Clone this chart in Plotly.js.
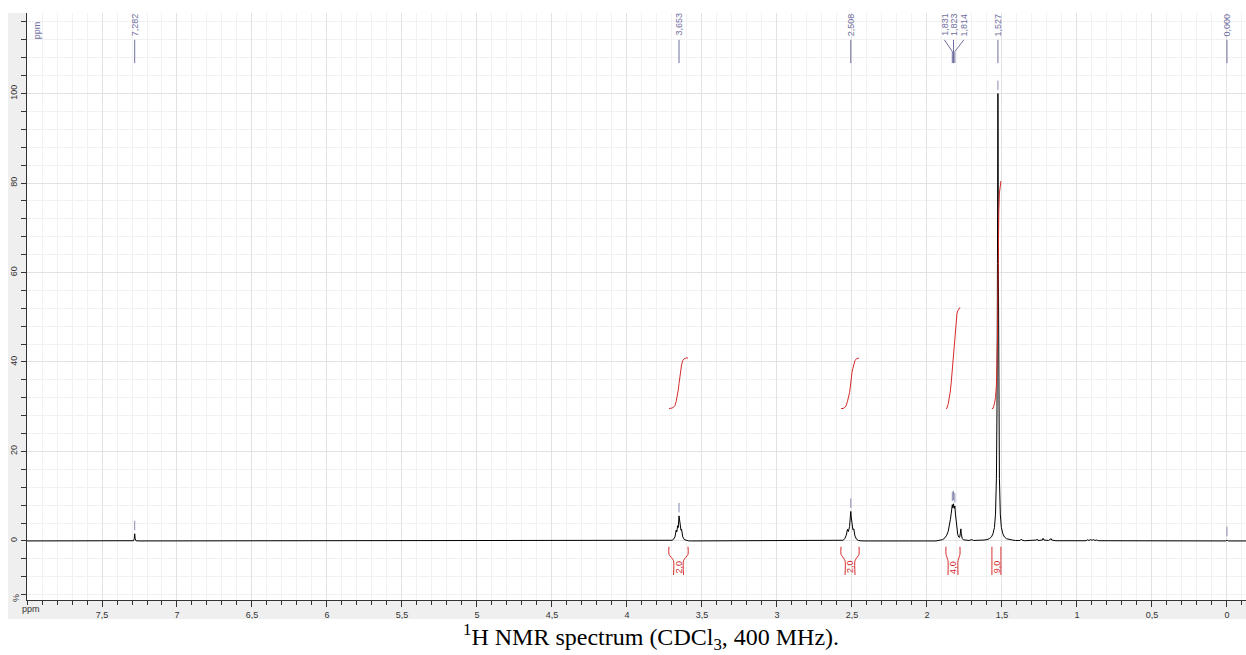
<!DOCTYPE html>
<html>
<head>
<meta charset="utf-8">
<script src="https://cdn.plot.ly/plotly-3.0.1.min.js"></script>
<style>
  html, body { margin: 0; padding: 0; background: #ffffff; }
  #nmr { width: 1246px; height: 655px; }
</style>
</head>
<body>
<div id="nmr"></div>
<script>
// 1H NMR spectrum (CDCl3, 400 MHz): chemical shift (ppm) vs. relative intensity (%)
const spectrumPpm = [
  8.000, 7.300, 7.290, 7.285, 7.282, 7.279, 7.274, 7.260,
  3.740, 3.715, 3.700, 3.690, 3.680, 3.672, 3.668, 3.662, 3.658, 3.653, 3.649, 3.645, 3.640, 3.636, 3.628, 3.618, 3.605, 3.590, 3.570,
  2.600, 2.575, 2.560, 2.548, 2.538, 2.530, 2.524, 2.516, 2.511, 2.508, 2.505, 2.500, 2.494, 2.488, 2.480, 2.470, 2.458, 2.440, 2.420,
  1.940, 1.910, 1.895, 1.880, 1.868, 1.858, 1.850, 1.844, 1.838, 1.834, 1.831, 1.827, 1.823, 1.818, 1.814, 1.810, 1.805, 1.800, 1.795, 1.789, 1.782, 1.777, 1.774, 1.771, 1.765, 1.755, 1.740, 1.720, 1.700, 1.690, 1.660, 1.640, 1.620,
  1.600, 1.585, 1.570, 1.560, 1.550, 1.543, 1.537, 1.533, 1.530, 1.528, 1.527, 1.526, 1.524, 1.521, 1.517, 1.511, 1.504, 1.494, 1.484, 1.470, 1.450, 1.430, 1.410,
  1.380, 1.372, 1.366, 1.350, 1.300, 1.270, 1.265, 1.260, 1.230, 1.226, 1.220, 1.190, 1.172, 1.168, 1.140,
  0.940, 0.930, 0.920, 0.910, 0.900, 0.890, 0.880, 0.870, 0.855,
  0.010, 0.002, 0.000, -0.002, -0.010, -0.130
];
const spectrumInt = [
  0, 0, 0.05, 0.5, 1.6, 0.5, 0.05, 0,
  0, 0.05, 0.15, 0.35, 0.9, 2.4, 2.0, 3.4, 3.0, 5.6, 4.0, 4.2, 2.4, 2.6, 0.9, 0.3, 0.1, 0.03, 0,
  0, 0.05, 0.15, 0.5, 1.3, 2.6, 2.1, 3.2, 5.8, 6.6, 5.4, 3.0, 2.5, 2.7, 1.1, 0.4, 0.12, 0.03, 0,
  0, 0.1, 0.3, 0.7, 1.3, 2.2, 3.4, 4.8, 6.2, 7.4, 8.1, 7.4, 8.3, 7.3, 7.8, 6.0, 4.2, 2.6, 1.5, 0.9, 0.8, 1.8, 2.7, 1.6, 0.5, 0.25, 0.15, 0.1, 0.3, 0.1, 0.15, 0.1, 0.2,
  0.3, 0.5, 0.9, 1.6, 3.0, 6.0, 14, 30, 62, 92, 100, 92, 62, 30, 14, 6.0, 3.0, 1.6, 0.9, 0.5, 0.3, 0.2, 0.1,
  0.1, 0.4, 0.2, 0.05, 0.05, 0.2, 0.4, 0.1, 0.2, 0.6, 0.2, 0.1, 0.5, 0.2, 0.05,
  0.05, 0.25, 0.1, 0.3, 0.15, 0.3, 0.1, 0.2, 0.05,
  0, 0.15, 0.25, 0.15, 0, 0
];

// Picked peaks
const peakPpm     = [7.282, 3.653, 2.508, 1.831, 1.823, 1.814, 1.527, 0.000];
const peakHeights = [1.6,   5.6,   6.6,   8.1,   8.3,   7.8,   100,   0.25];

// Integral regions (start/end in ppm) and their relative integrals
const integralStart  = [3.720, 2.573, 1.873, 1.567];
const integralEnd    = [3.593, 2.453, 1.780, 1.507];
const integralValues = [2.0, 2.0, 4.0, 9.0];

// Axis ticks
const xTickVals = [7.5, 7, 6.5, 6, 5.5, 5, 4.5, 4, 3.5, 3, 2.5, 2, 1.5, 1, 0.5, 0];
const xTickText = ['7,5', '7', '6,5', '6', '5,5', '5', '4,5', '4', '3,5', '3', '2,5', '2', '1,5', '1', '0,5', '0'];
const yTickVals = [0, 20, 40, 60, 80, 100];
const yTickText = ['0', '20', '40', '60', '80', '100'];

const PX_PER_PPM = 150;           // horizontal scale of the plot
const LABEL_SHIFT = {1.831: -8, 1.814: 9};   // fan-out of crowded peak labels (px)
const PEAK_COLOR = '#6f6f9e';
const INT_COLOR = '#d62a2a';
const INT_BASE = 29.6, INT_SCALE = 5.65;
const sansFont = 'Arial, "Liberation Sans", sans-serif';

const fmt = (v, d) => v.toFixed(d).replace('.', ',');

const traces = [];

// Spectrum
traces.push({
  x: spectrumPpm, y: spectrumInt, type: 'scatter', mode: 'lines',
  line: {color: '#000000', width: 1}, hoverinfo: 'skip', showlegend: false
});

// Peak markers just above each picked peak
const mkX = [], mkY = [];
peakPpm.forEach((p, i) => {
  mkX.push(p, p, null);
  mkY.push(peakHeights[i] + 0.8, peakHeights[i] + 2.9, null);
});
traces.push({
  x: mkX, y: mkY, type: 'scatter', mode: 'lines',
  line: {color: '#8a8ab2', width: 1}, hoverinfo: 'skip', showlegend: false
});

// Leader lines from the peak labels
const ldX = [], ldY = [];
const annotations = [];
peakPpm.forEach((p) => {
  const shift = LABEL_SHIFT[p] || 0;
  const lx = p - shift / PX_PER_PPM;
  ldX.push(lx, p, p, null);
  ldY.push(112.0, shift ? 109.4 : 112.0, 106.8, null);
  annotations.push({
    x: lx, y: 112.4, xref: 'x', yref: 'y', text: fmt(p, 3), showarrow: false,
    textangle: -90, xanchor: 'center', yanchor: 'bottom',
    font: {family: sansFont, size: 9, color: PEAK_COLOR}
  });
});
traces.push({
  x: ldX, y: ldY, type: 'scatter', mode: 'lines',
  line: {color: PEAK_COLOR, width: 1}, hoverinfo: 'skip', showlegend: false
});

// Integral curves (cumulative area of the spectrum over each region) and brackets
integralStart.forEach((s, k) => {
  const e = integralEnd[k];
  const xs = [s], cum = [0];
  let prevX = null, prevY = null, total = 0;
  spectrumPpm.forEach((p, i) => {
    if (p <= s && p >= e) {
      const v = spectrumInt[i];
      if (prevX !== null) total += (prevX - p) * (prevY + v) / 2;
      prevX = p; prevY = v;
      xs.push(p); cum.push(total);
    }
  });
  xs.push(e); cum.push(total);
  traces.push({
    x: xs, y: cum.map(c => INT_BASE + integralValues[k] * INT_SCALE * c / total),
    type: 'scatter', mode: 'lines', line: {color: INT_COLOR, width: 1},
    hoverinfo: 'skip', showlegend: false
  });

  const c = (s + e) / 2, half = 5 / PX_PER_PPM;
  const inL = Math.min(s, c + half), inR = Math.max(e, c - half);
  traces.push({
    x: [s, s, inL, inL, null, e, e, inR, inR],
    y: [-1.3, -3.0, -4.4, -7.6, null, -1.3, -3.0, -4.4, -7.6],
    type: 'scatter', mode: 'lines', line: {color: INT_COLOR, width: 1, shape: 'spline', smoothing: 0.6},
    hoverinfo: 'skip', showlegend: false
  });
  annotations.push({
    x: c, y: -5.8, xref: 'x', yref: 'y', text: fmt(integralValues[k], 1), showarrow: false,
    textangle: -90, xanchor: 'center', yanchor: 'middle',
    font: {family: sansFont, size: 9, color: INT_COLOR}
  });
});

// Axis captions and figure caption
annotations.push(
  {x: 0.0085, y: 0.99, xref: 'paper', yref: 'paper', text: 'ppm', showarrow: false,
   textangle: -90, xanchor: 'center', yanchor: 'top',
   font: {family: sansFont, size: 9, color: PEAK_COLOR}},
  {x: -0.0085, y: 0.003, xref: 'paper', yref: 'paper', text: '%', showarrow: false,
   textangle: -90, xanchor: 'center', yanchor: 'middle',
   font: {family: sansFont, size: 9, color: '#333333'}},
  {x: 0.0033, y: -0.0153, xref: 'paper', yref: 'paper', text: 'ppm', showarrow: false,
   xanchor: 'center', yanchor: 'middle',
   font: {family: sansFont, size: 9, color: '#333333'}},
  {x: 0.512, y: -0.063, xref: 'paper', yref: 'paper',
   text: '<sup>1</sup>H NMR spectrum (CDCl<sub>3</sub>, 400 MHz).', showarrow: false,
   xanchor: 'center', yanchor: 'middle',
   font: {family: '"Times New Roman", "Liberation Serif", serif', size: 24, color: '#000000'}}
);

const layout = {
  width: 1246, height: 655,
  margin: {l: 27, r: 0, t: 13, b: 55, pad: 0},
  paper_bgcolor: '#ffffff', plot_bgcolor: '#ffffff',
  separators: ', ',
  showlegend: false,
  xaxis: {
    range: [8.0, -0.127], autorange: false,
    tickmode: 'array', tickvals: xTickVals, ticktext: xTickText,
    ticks: 'outside', ticklen: 6, tickcolor: '#333333', tickwidth: 1,
    showline: true, linecolor: '#333333', linewidth: 1,
    showgrid: true, gridcolor: '#e2e2e2', gridwidth: 1, zeroline: false,
    minor: {tick0: 0, dtick: 0.1, ticks: 'outside', ticklen: 4, tickcolor: '#333333',
            showgrid: true, gridcolor: '#f1f1f1', gridwidth: 1},
    tickfont: {family: sansFont, size: 9, color: '#333333'}
  },
  yaxis: {
    range: [-13.2, 118], autorange: false,
    tickmode: 'array', tickvals: yTickVals, ticktext: yTickText, tickangle: -90,
    ticks: 'outside', ticklen: 5, tickcolor: '#333333', tickwidth: 1,
    showline: true, linecolor: '#333333', linewidth: 1,
    showgrid: true, gridcolor: '#e2e2e2', gridwidth: 1, zeroline: false,
    minor: {tick0: 0, dtick: 4, ticks: 'outside', ticklen: 5, tickcolor: '#333333',
            showgrid: true, gridcolor: '#f1f1f1', gridwidth: 1},
    tickfont: {family: sansFont, size: 9, color: '#333333'}
  },
  shapes: [
    // grey frame band along the left and bottom axes
    {type: 'rect', xref: 'paper', yref: 'paper', x0: -0.0156, x1: 0, y0: -0.0324, y1: 1,
     fillcolor: '#efefef', line: {width: 0}, layer: 'below'},
    {type: 'rect', xref: 'paper', yref: 'paper', x0: -0.0156, x1: 1, y0: -0.0324, y1: 0,
     fillcolor: '#efefef', line: {width: 0}, layer: 'below'}
  ],
  annotations: annotations
};

Plotly.newPlot('nmr', traces, layout, {staticPlot: true, displayModeBar: false});
</script>
</body>
</html>
